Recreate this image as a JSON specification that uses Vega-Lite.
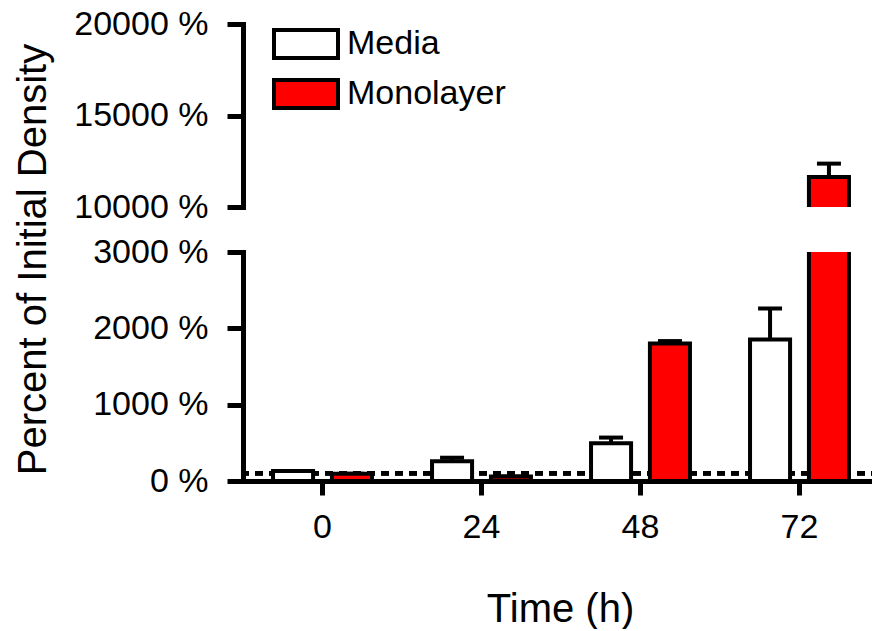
{
  "$schema": "https://vega.github.io/schema/vega-lite/v6.json",
  "padding": {"left": 12, "top": 7, "right": 0, "bottom": 0},
  "background": "white",
  "config": {
    "font": "Liberation Sans",
    "view": {"stroke": null},
    "axis": {
      "domainColor": "black", "tickColor": "black", "labelColor": "black", "titleColor": "black",
      "domainWidth": 5, "tickWidth": 5, "grid": false,
      "labelFontSize": 34, "titleFontSize": 40, "titleFontWeight": "normal",
      "domainCap": "square"
    },
    "legend": {"labelFont": "Liberation Sans"}
  },
  "datasets": {
    "bars": [
      {"t": "0", "group": "Media", "mean": 130, "hi": 130},
      {"t": "0", "group": "Monolayer", "mean": 95, "hi": 95},
      {"t": "24", "group": "Media", "mean": 260, "hi": 305},
      {"t": "24", "group": "Monolayer", "mean": 60, "hi": 60},
      {"t": "48", "group": "Media", "mean": 495, "hi": 569},
      {"t": "48", "group": "Monolayer", "mean": 1800, "hi": 1833},
      {"t": "72", "group": "Media", "mean": 1853, "hi": 2260},
      {"t": "72", "group": "Monolayer", "mean": 11640, "hi": 12370}
    ]
  },
  "vconcat": [
    {
      "width": 636,
      "height": 183,
      "data": {"name": "bars"},
      "encoding": {
        "x": {"field": "t", "type": "nominal", "sort": ["0", "24", "48", "72"], "axis": null,
              "scale": {"domain": ["0", "24", "48", "72"], "paddingInner": 0, "paddingOuter": 0}},
        "xOffset": {"field": "group", "type": "nominal", "scale": {"domain": ["Media", "Monolayer"], "paddingInner": 0.32, "paddingOuter": 0.51}}
      },
      "layer": [
        {
          "mark": {"type": "rule", "color": "black", "strokeWidth": 4, "clip": true},
          "encoding": {
            "y": {"field": "mean", "type": "quantitative", "scale": {"domain": [10000, 20000]},
                  "axis": {"values": [10000, 15000, 20000], "labelExpr": "datum.value + ' %'", "title": null, "tickSize": 16, "labelPadding": 19}},
            "y2": {"field": "hi"}
          }
        },
        {
          "mark": {"type": "tick", "orient": "horizontal", "color": "black", "opacity": 1, "size": 24, "thickness": 4, "clip": true},
          "encoding": {"y": {"field": "hi", "type": "quantitative"}}
        },
        {
          "mark": {"type": "bar", "stroke": "black", "strokeWidth": 4, "clip": true},
          "encoding": {
            "y": {"field": "mean", "type": "quantitative"},
            "fill": {"field": "group", "type": "nominal",
                     "scale": {"domain": ["Media", "Monolayer"], "range": ["#ffffff", "#ff0000"]},
                     "legend": {"orient": "none", "legendX": 45, "legendY": 2, "title": null, "padding": 0,
                                "symbolType": "M-2,-0.875H2V0.875H-2Z", "symbolSize": 1024,
                                "symbolStrokeColor": "black", "symbolStrokeWidth": 4, "symbolOpacity": 1,
                                "labelFontSize": 34, "labelColor": "black", "labelOffset": 23, "rowPadding": 6}}
          }
        }
      ]
    },
    {
      "width": 636,
      "height": 229,
      "data": {"name": "bars"},
      "encoding": {
        "x": {"field": "t", "type": "nominal", "sort": ["0", "24", "48", "72"],
              "scale": {"domain": ["0", "24", "48", "72"], "paddingInner": 0, "paddingOuter": 0},
              "axis": {"title": "Time (h)", "labelAngle": 0, "tickSize": 14, "labelPadding": 15,
                       "titleY": 140, "titleX": 317, "titleBaseline": "alphabetic"}},
        "xOffset": {"field": "group", "type": "nominal", "scale": {"domain": ["Media", "Monolayer"], "paddingInner": 0.32, "paddingOuter": 0.51}}
      },
      "layer": [
        {
          "mark": {"type": "rule", "color": "black", "strokeWidth": 4, "strokeDash": [8, 6]},
          "encoding": {"y": {"datum": 100, "type": "quantitative"}, "x": null, "xOffset": null}
        },
        {
          "mark": {"type": "rule", "color": "black", "strokeWidth": 4, "clip": true},
          "encoding": {
            "y": {"field": "mean", "type": "quantitative", "scale": {"domain": [0, 3000]},
                  "axis": {"values": [0, 1000, 2000, 3000], "labelExpr": "datum.value + ' %'", "tickSize": 16, "labelPadding": 19,
                           "title": "Percent of Initial Density", "titleX": -198, "titleY": 7, "titleAngle": -90,
                           "titleAlign": "center", "titleBaseline": "alphabetic"}},
            "y2": {"field": "hi"}
          }
        },
        {
          "mark": {"type": "tick", "orient": "horizontal", "color": "black", "opacity": 1, "size": 24, "thickness": 4, "clip": true},
          "encoding": {"y": {"field": "hi", "type": "quantitative"}}
        },
        {
          "mark": {"type": "bar", "stroke": "black", "strokeWidth": 4, "clip": true},
          "encoding": {
            "y": {"field": "mean", "type": "quantitative"},
            "fill": {"field": "group", "type": "nominal",
                     "scale": {"domain": ["Media", "Monolayer"], "range": ["#ffffff", "#ff0000"]},
                     "legend": null}
          }
        }
      ]
    }
  ],
  "spacing": 45,
  "bounds": "flush",
  "resolve": {"scale": {"fill": "independent"}}
}
